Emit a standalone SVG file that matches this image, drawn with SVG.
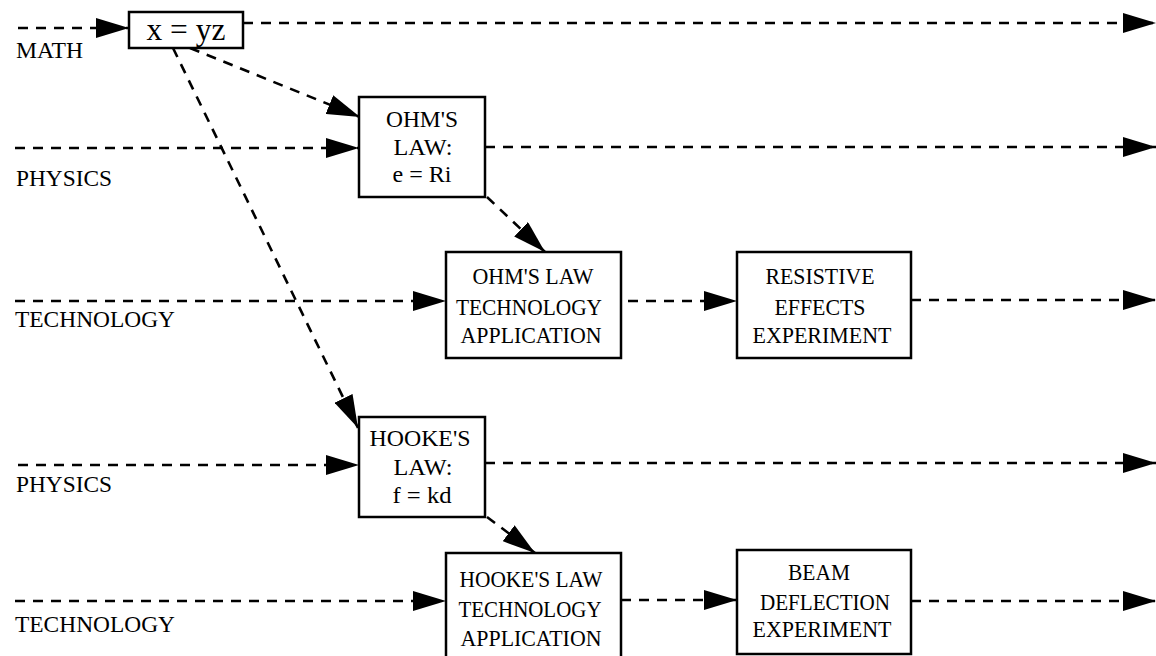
<svg xmlns="http://www.w3.org/2000/svg" width="1156" height="656" viewBox="0 0 1156 656">
<style>
  .box { fill: #fff; stroke: #000; stroke-width: 2.5; }
  .t { font-family: "Liberation Serif", "Times New Roman", serif; font-size: 24px; fill: #000; text-anchor: middle; }
  .lbl { font-family: "Liberation Serif", "Times New Roman", serif; font-size: 24px; fill: #000; }
  .c { fill: none; stroke: #000; stroke-width: 2.6; stroke-dasharray: 10 8; marker-end: url(#ah); }
</style>
<defs>
  <marker id="ah" viewBox="0 0 33 20" refX="33" refY="10" markerWidth="33" markerHeight="20" markerUnits="userSpaceOnUse" orient="auto">
    <path d="M0,0 L33,10 L0,20 Z" fill="#000"/>
  </marker>
</defs>
<rect width="1156" height="656" fill="#fff"/>
<g id="labels">
  <text class="lbl" x="16" y="58" textLength="67" lengthAdjust="spacingAndGlyphs">MATH</text>
  <text class="lbl" x="16" y="186" textLength="96" lengthAdjust="spacingAndGlyphs">PHYSICS</text>
  <text class="lbl" x="15" y="327" textLength="160" lengthAdjust="spacingAndGlyphs">TECHNOLOGY</text>
  <text class="lbl" x="16" y="492" textLength="96" lengthAdjust="spacingAndGlyphs">PHYSICS</text>
  <text class="lbl" x="15" y="632" textLength="160" lengthAdjust="spacingAndGlyphs">TECHNOLOGY</text>
</g>
<g id="connectors">
  <path class="c" d="M18,28 L129,28"/>
  <path class="c" d="M243,23 L1156,23"/>
  <path class="c" d="M15,148 L359,148"/>
  <path class="c" d="M485,147 L1156,147"/>
  <path class="c" d="M190,48 L360,117"/>
  <path class="c" d="M173,48 L358,428"/>
  <path class="c" d="M487,197 L545,252"/>
  <path class="c" d="M15,301 L446,301"/>
  <path class="c" d="M628,301 L737,301"/>
  <path class="c" d="M911,300 L1156,300"/>
  <path class="c" d="M18,465 L359,465"/>
  <path class="c" d="M485,463 L1156,463"/>
  <path class="c" d="M487,517 L535,553"/>
  <path class="c" d="M15,601 L446,601"/>
  <path class="c" d="M621,600 L737,600"/>
  <path class="c" d="M911,601 L1156,601"/>
</g>
<g id="math">
  <rect class="box" x="129" y="12" width="114" height="36"/>
  <text class="t" x="186" y="40" style="font-size:31px" textLength="79" lengthAdjust="spacingAndGlyphs">x = yz</text>
</g>
<g id="ohm">
  <rect class="box" x="359" y="97" width="126" height="100"/>
  <text class="t" x="422" y="127" textLength="72" lengthAdjust="spacingAndGlyphs">OHM'S</text>
  <text class="t" x="423" y="155" textLength="59" lengthAdjust="spacingAndGlyphs">LAW:</text>
  <text class="t" x="422" y="182" textLength="59" lengthAdjust="spacingAndGlyphs">e = Ri</text>
</g>
<g id="ohmtech">
  <rect class="box" x="446" y="252" width="175" height="106"/>
  <text class="t" x="533" y="284" textLength="121" lengthAdjust="spacingAndGlyphs">OHM'S LAW</text>
  <text class="t" x="529" y="315" textLength="146" lengthAdjust="spacingAndGlyphs">TECHNOLOGY</text>
  <text class="t" x="531" y="343" textLength="141" lengthAdjust="spacingAndGlyphs">APPLICATION</text>
</g>
<g id="resistive">
  <rect class="box" x="737" y="252" width="174" height="106"/>
  <text class="t" x="820" y="284" textLength="109" lengthAdjust="spacingAndGlyphs">RESISTIVE</text>
  <text class="t" x="820" y="315" textLength="91" lengthAdjust="spacingAndGlyphs">EFFECTS</text>
  <text class="t" x="822" y="343" textLength="139" lengthAdjust="spacingAndGlyphs">EXPERIMENT</text>
</g>
<g id="hooke">
  <rect class="box" x="359" y="417" width="126" height="100"/>
  <text class="t" x="420" y="446" textLength="101" lengthAdjust="spacingAndGlyphs">HOOKE'S</text>
  <text class="t" x="423" y="475" textLength="59" lengthAdjust="spacingAndGlyphs">LAW:</text>
  <text class="t" x="422" y="503" textLength="59" lengthAdjust="spacingAndGlyphs">f = kd</text>
</g>
<g id="hooketech">
  <rect class="box" x="446" y="553" width="175" height="110"/>
  <text class="t" x="531" y="587" textLength="143" lengthAdjust="spacingAndGlyphs">HOOKE'S LAW</text>
  <text class="t" x="530" y="617" textLength="143" lengthAdjust="spacingAndGlyphs">TECHNOLOGY</text>
  <text class="t" x="531" y="646" textLength="141" lengthAdjust="spacingAndGlyphs">APPLICATION</text>
</g>
<g id="beam">
  <rect class="box" x="737" y="550" width="174" height="104"/>
  <text class="t" x="819" y="580" textLength="62" lengthAdjust="spacingAndGlyphs">BEAM</text>
  <text class="t" x="825" y="610" textLength="130" lengthAdjust="spacingAndGlyphs">DEFLECTION</text>
  <text class="t" x="822" y="637" textLength="139" lengthAdjust="spacingAndGlyphs">EXPERIMENT</text>
</g>
</svg>
